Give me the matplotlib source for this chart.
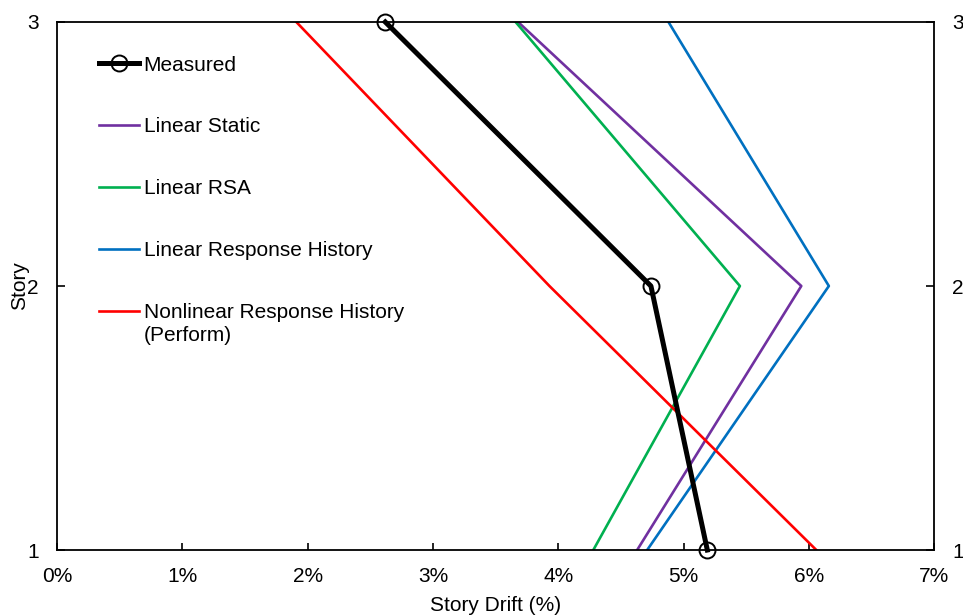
import matplotlib
matplotlib.use("Agg")
import matplotlib.pyplot as plt
from matplotlib.ticker import FuncFormatter

plt.rcParams['font.family'] = ['Liberation Sans', 'DejaVu Sans']

stories = [1, 2, 3]
measured = [5.19, 4.74, 2.62]
linear_static = [4.63, 5.94, 3.68]
linear_rsa = [4.28, 5.45, 3.66]
linear_rh = [4.71, 6.16, 4.88]
nonlinear_rh = [6.06, 3.93, 1.91]

x_ticks = [0, 1, 2, 3, 4, 5, 6, 7]
y_ticks = [1, 2, 3]

FS = 15

fig = plt.figure(figsize=(9.63, 6.16), dpi=100)
ax = fig.add_axes([0.0592, 0.1071, 0.9108, 0.8572])

ax.plot(measured, stories, color='black', lw=3.6, marker='o', ms=11.5,
        mfc='none', mec='black', mew=1.4, label='Measured', zorder=5,
        clip_on=False)
ax.plot(linear_static, stories, color='#7030A0', lw=1.9, label='Linear Static')
ax.plot(linear_rsa, stories, color='#00B050', lw=1.9, label='Linear RSA')
ax.plot(linear_rh, stories, color='#0070C0', lw=1.9, label='Linear Response History')
ax.plot(nonlinear_rh, stories, color='#FF0000', lw=1.9,
        label='Nonlinear Response History')

ax.set_xlim(0, 7)
ax.set_ylim(1, 3)
ax.set_xticks(x_ticks)
ax.xaxis.set_major_formatter(FuncFormatter(lambda v, p: f"{v:.0f}%"))
ax.set_yticks(y_ticks)
ax.tick_params(axis='x', direction='in', length=5, width=1.2, labelsize=FS, pad=12.5)
ax.tick_params(axis='y', direction='in', length=6, width=1.2, labelsize=FS, pad=13,
               right=True, labelright=True)
for s in ax.spines.values():
    s.set_linewidth(1.3)

ax.set_xlabel('Story Drift (%)', fontsize=FS, labelpad=7)
ax.set_ylabel('Story', fontsize=FS, labelpad=-1.5)

leg = ax.legend(loc='upper left', bbox_to_anchor=(0.027, 0.972), frameon=False,
                fontsize=FS, handlelength=1.92, handletextpad=0.2,
                labelspacing=2.06)

# second line of the last legend entry, kept under its first line
fig.canvas.draw()
last = leg.get_texts()[-1]
bb = last.get_window_extent()
x0, y0 = fig.transFigure.inverted().transform((bb.x0, bb.y0))
fig.text(x0, y0 - 0.006, '(Perform)', fontsize=FS, ha='left', va='top')

fig.savefig('out.png', dpi=100)
